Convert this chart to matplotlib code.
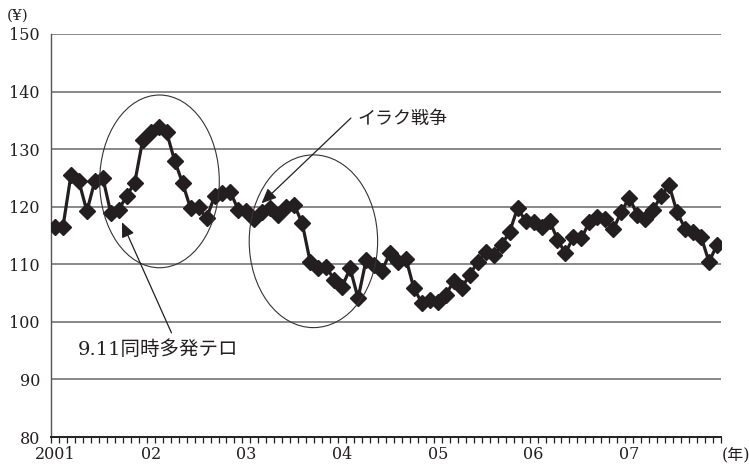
import numpy as np
import matplotlib
matplotlib.use("Agg")
import matplotlib.pyplot as plt
from matplotlib.patches import Ellipse
from matplotlib.ticker import FixedLocator, FixedFormatter

# 円相場（月次, 2001年1月〜2007年12月）
yen = [
    116.5, 116.5, 125.5, 124.4, 119.2, 124.5, 125.0, 118.9, 119.5, 121.9, 124.2, 131.6,
    133.0, 133.9, 132.9, 128.0, 124.1, 119.7, 119.9, 118.0, 121.8, 122.4, 122.5, 119.4,
    119.2, 117.9, 119.1, 119.7, 118.6, 120.0, 120.3, 117.1, 110.4, 109.3, 109.6, 107.3,
    106.1, 109.3, 104.1, 110.7, 109.9, 108.9, 112.0, 110.4, 111.0, 105.8, 103.3, 103.8,
    103.5, 104.7, 107.1, 105.9, 108.2, 110.4, 112.2, 111.6, 113.4, 115.6, 119.8, 117.5,
    117.4, 116.5, 117.6, 114.3, 111.9, 114.8, 114.5, 117.4, 118.3, 117.8, 116.1, 119.1,
    121.6, 118.6, 117.8, 119.5, 121.9, 123.7, 119.0, 116.2, 115.6, 114.8, 110.4, 113.4,
]
year_labels = ["2001", "02", "03", "04", "05", "06", "07"]
y_ticks = [80, 90, 100, 110, 120, 130, 140, 150]

ink = "#231f20"
serif_jp = ["DejaVu Serif", "Noto Sans CJK JP"]

fig = plt.figure(figsize=(7.49, 4.65), dpi=100)
ax = fig.add_axes([51 / 749, 1 - 437 / 465, 670 / 749, 403 / 465])

x = np.arange(len(yen))
ax.plot(x, yen, color=ink, lw=2.3, marker="D", ms=7.8, mfc=ink, mec=ink, zorder=3)

ax.set_xlim(-0.5, len(yen) - 0.5)
ax.set_ylim(80, 150)

# 横グリッド
for v in y_ticks[1:]:
    ax.axhline(v, color="#7f7f7f", lw=1.3, zorder=1)

for s in ["top", "right"]:
    ax.spines[s].set_visible(False)
ax.spines["left"].set_color("#555555")
ax.spines["left"].set_linewidth(1.0)
ax.spines["bottom"].set_color(ink)
ax.spines["bottom"].set_linewidth(1.4)

ax.set_yticks(y_ticks)
ax.set_yticklabels([str(v) for v in y_ticks], family=serif_jp, fontsize=11.5, color=ink)
ax.tick_params(axis="y", length=0, pad=8)

ax.xaxis.set_major_locator(FixedLocator(np.arange(0, len(yen), 12)))
ax.xaxis.set_major_formatter(FixedFormatter(year_labels))
ax.xaxis.set_minor_locator(FixedLocator(np.arange(-0.5, len(yen), 1)))
ax.tick_params(axis="x", which="major", length=0, pad=6.5, labelsize=11.5, labelcolor=ink)
ax.tick_params(axis="x", which="minor", length=4.5, width=0.9, color=ink)
for lab in ax.get_xticklabels():
    lab.set_family(serif_jp)

# 楕円で囲んだ期間
ax.add_patch(Ellipse((13.1, 124.4), 15.0, 30.0, fill=False, ec="#333333", lw=0.8, zorder=4))
ax.add_patch(Ellipse((32.4, 114.0), 16.1, 30.0, fill=False, ec="#333333", lw=0.8, zorder=4))

arrow = dict(arrowstyle="-|>,head_length=0.5,head_width=0.22", color=ink, lw=0.9,
             mutation_scale=18, shrinkA=0, shrinkB=0)
ax.annotate("", xy=(8.4, 117.3), xytext=(14.6, 98.1), arrowprops=arrow, zorder=5)
ax.text(2.9, 95.1, "9.11同時多発テロ", family=serif_jp, fontsize=14, color=ink,
        ha="left", va="center")
ax.annotate("", xy=(25.9, 120.6), xytext=(37.1, 135.4), arrowprops=arrow, zorder=5)
ax.text(37.9, 135.3, "イラク戦争", family=serif_jp, fontsize=13, color=ink,
        ha="left", va="center")

fig.text(7 / 749, 1 - 16 / 465, "(¥)", family=serif_jp, fontsize=11,
         color=ink, ha="left", va="center")
fig.text(722 / 749, 1 - 455 / 465, "(年)", family=serif_jp, fontsize=11.5,
         color=ink, ha="left", va="center")

fig.savefig("out.png", dpi=100)
